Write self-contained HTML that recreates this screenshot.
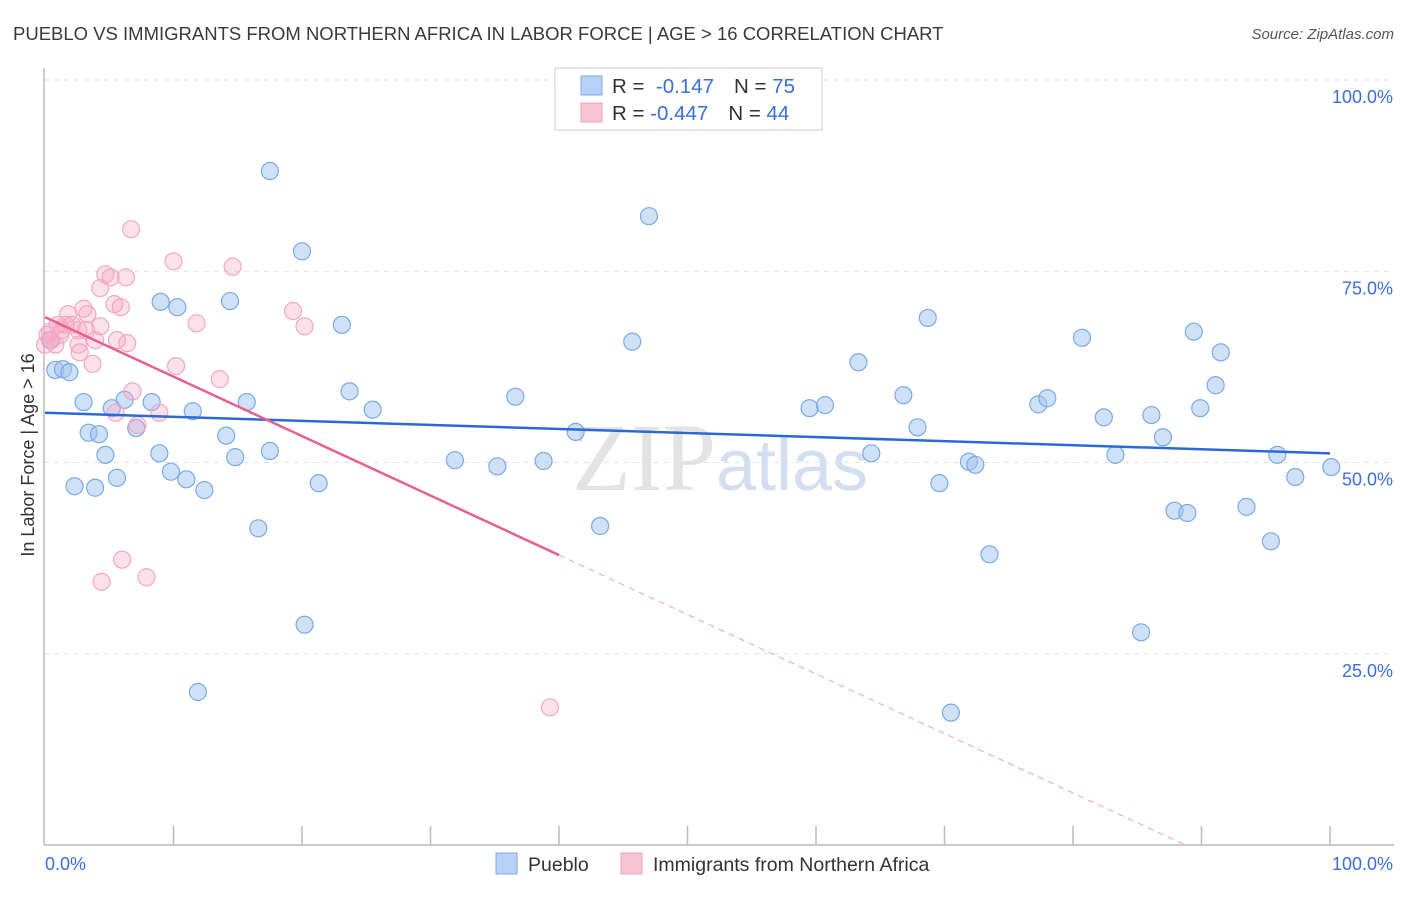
<!DOCTYPE html>
<html><head><meta charset="utf-8"><style>
body{margin:0;background:#fff;font-family:"Liberation Sans",sans-serif;}
</style></head><body>
<svg id="chart" width="1406" height="892" xmlns="http://www.w3.org/2000/svg" font-family="Liberation Sans, sans-serif">
<text x="13" y="40" font-size="18.5" fill="#3a3a3a">PUEBLO VS IMMIGRANTS FROM NORTHERN AFRICA IN LABOR FORCE | AGE &gt; 16 CORRELATION CHART</text>
<text x="1394" y="39" font-size="15" fill="#555" font-style="italic" text-anchor="end">Source: ZipAtlas.com</text>
<text x="720" y="490" font-size="96" fill="#ddd" text-anchor="middle" font-family="Liberation Serif, serif" opacity="0.8">ZIP<tspan fill="#c9d8ee" font-family="Liberation Sans, sans-serif" font-size="72">atlas</tspan></text>
<text transform="translate(34,455) rotate(-90)" font-size="18" fill="#333" text-anchor="middle">In Labor Force | Age &gt; 16</text>
<g id="grid"></g><g id="axes"></g><g id="pts"></g><g id="lines"></g>
<g>
<rect x="555" y="68" width="267" height="62" fill="#fff" stroke="#ccc"/>
<rect x="581" y="76" width="21" height="19" fill="#b8d2f5" stroke="#7aaae6"/>
<rect x="581" y="103" width="21" height="19" fill="#f9c5d5" stroke="#f0a0bc"/>
<text x="612" y="93" font-size="20.5" fill="#333">R = <tspan fill="#3a6fd8">&#160;-0.147</tspan><tspan dx="20">N = </tspan><tspan fill="#3a6fd8">75</tspan></text>
<text x="612" y="120" font-size="20.5" fill="#333">R = <tspan fill="#3a6fd8">-0.447</tspan><tspan dx="20">N = </tspan><tspan fill="#3a6fd8">44</tspan></text>
</g>
<g>
<rect x="496" y="853" width="21" height="21" fill="#b8d2f5" stroke="#7aaae6"/>
<text x="528" y="871" font-size="19.5" fill="#333">Pueblo</text>
<rect x="621" y="853" width="21" height="21" fill="#f9c5d5" stroke="#f0a0bc"/>
<text x="653" y="871" font-size="19.5" fill="#333">Immigrants from Northern Africa</text>
</g>
</svg>
<script>
const blueX=[17.5,20.0,47.0,9.0,10.3,14.4,23.1,45.7,68.7,80.7,89.4,91.5,63.3,0.8,1.4,1.9,23.7,36.6,91.1,3.0,5.2,6.2,8.3,11.5,15.7,25.5,59.5,60.7,66.8,77.3,78.0,82.4,86.1,89.9,3.4,4.2,7.1,14.1,41.3,67.9,87.0,4.7,8.9,14.8,17.5,31.9,35.2,38.8,64.3,71.9,72.4,83.3,95.9,100.1,97.3,2.3,3.9,5.6,9.8,11.0,12.4,21.3,69.6,16.6,43.2,87.9,88.9,93.5,95.4,73.5,20.2,85.3,11.9,70.5,0.4];
const blueY=[88.1,77.6,82.2,71.0,70.3,71.1,68.0,65.8,68.9,66.3,67.1,64.4,63.1,62.1,62.2,61.8,59.3,58.6,60.1,57.9,57.1,58.2,57.9,56.7,57.9,56.9,57.1,57.5,58.8,57.6,58.4,55.9,56.2,57.1,53.9,53.7,54.5,53.5,54.0,54.6,53.3,51.0,51.2,50.7,51.5,50.3,49.5,50.2,51.2,50.1,49.7,51.0,51.0,49.4,48.1,46.9,46.7,48.0,48.8,47.8,46.4,47.3,47.3,41.4,41.7,43.7,43.4,44.2,39.7,38.0,28.8,27.8,20.0,17.3,66.0];
const pinkX=[6.7,10.0,14.6,4.7,5.1,6.3,4.3,5.4,5.9,3.0,1.8,3.3,2.1,1.0,0.4,1.3,3.2,3.9,5.6,6.4,2.6,2.7,3.7,11.8,19.3,20.2,10.2,13.6,6.8,5.5,8.9,7.2,0.5,0.8,0.0,6.0,4.4,7.9,39.3,2.6,1.6,4.3,0.2,1.2];
const pinkY=[80.5,76.3,75.6,74.6,74.2,74.2,72.8,70.7,70.3,70.1,69.4,69.4,68.0,68.0,67.1,67.3,67.3,66.0,66.0,65.6,65.4,64.4,62.9,68.2,69.8,67.8,62.6,60.9,59.3,56.5,56.5,54.9,66.0,65.4,65.4,37.3,34.4,35.0,18.0,67.3,68.0,67.8,66.7,66.7];
const blueTrend=[56.5,51.2];
const pinkTrend=[69.0,-0.7775];
const yTicks=[25,50,75,100];
const xTicks=[0,10,20,30,40,50,60,70,80,90,100];
const NS="http://www.w3.org/2000/svg";
const sx=v=>45+v*12.85, sy=v=>845-v*7.65;
function mk(tag,attrs,parent){const e=document.createElementNS(NS,tag);for(const k in attrs)e.setAttribute(k,attrs[k]);document.getElementById(parent).appendChild(e);return e;}
mk('line',{x1:44,y1:68,x2:44,y2:845,stroke:'#bbb','stroke-width':1.5},'axes');
mk('line',{x1:44,y1:845,x2:1394,y2:845,stroke:'#bbb','stroke-width':1.5},'axes');
yTicks.forEach(t=>{
 const g=mk('line',{x1:44,y1:sy(t),x2:1394,y2:sy(t),stroke:'#e2e2e2','stroke-dasharray':'5,5'},'grid');
 
 
 const tx=mk('text',{x:1393,y:sy(t)+23,'font-size':18,fill:'#3a6fd8','text-anchor':'end'},'axes');
 tx.textContent=t.toFixed(1)+'%';
 
 
});
xTicks.forEach(t=>{
 if(t>0){const l=mk('line',{x1:sx(t),y1:826,x2:sx(t),y2:845,stroke:'#bbb','stroke-width':1.5},'axes');
 
 }
});
const xl=mk('text',{x:45,y:870,'font-size':18,fill:'#3a6fd8'},'axes');xl.textContent='0.0%';


const xr=mk('text',{x:1393,y:870,'font-size':18,fill:'#3a6fd8','text-anchor':'end'},'axes');xr.textContent='100.0%';


blueX.forEach((x,i)=>{
 const c=mk('circle',{cx:sx(x),cy:sy(blueY[i]),r:8.5,fill:'rgba(160,195,240,0.5)',stroke:'#7aaae6','stroke-width':1.2},'pts');
 
 
});
pinkX.forEach((x,i)=>{
 const c=mk('circle',{cx:sx(x),cy:sy(pinkY[i]),r:8.5,fill:'rgba(245,170,195,0.35)',stroke:'#f2a8c0','stroke-width':1.2},'pts');
 
 
});
const bl=mk('line',{x1:sx(0),y1:sy(blueTrend[0]),x2:sx(100),y2:sy(blueTrend[1]),stroke:'#2a6ad6','stroke-width':2.5},'lines');


const pf=x=>pinkTrend[0]+pinkTrend[1]*x;
const xEnd=-pinkTrend[0]/pinkTrend[1];
const pl=mk('line',{x1:sx(0),y1:sy(pf(0)),x2:sx(40),y2:sy(pf(40)),stroke:'#e8608e','stroke-width':2.5},'lines');


const pd=mk('line',{x1:sx(40),y1:sy(pf(40)),x2:sx(xEnd),y2:sy(0),stroke:'#e8a0b8','stroke-width':1,'stroke-dasharray':'6,5'},'lines');


</script>
</body></html>
